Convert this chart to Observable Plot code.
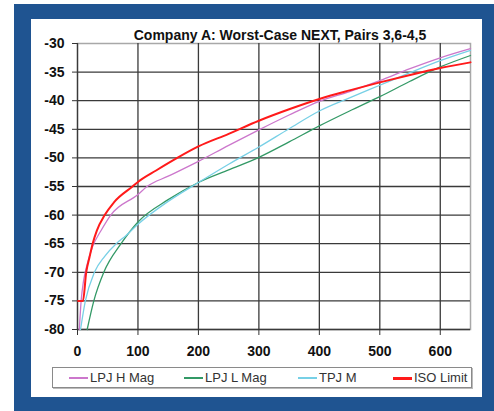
<!DOCTYPE html>
<html>
<head>
<meta charset="utf-8">
<script src="https://cdn.jsdelivr.net/npm/d3@7"></script>
<script src="https://cdn.jsdelivr.net/npm/@observablehq/plot@0.6"></script>
<style>
  html, body { margin: 0; padding: 0; background: #ffffff; }
  #wrap { position: relative; width: 494px; height: 411px; overflow: hidden; font-family: "Liberation Sans", Arial, sans-serif; }
  #blue { position: absolute; left: 14px; top: 4px; width: 480px; height: 407px; background: #1f5491; }
  #panel { position: absolute; left: 31px; top: 19px; width: 451px; height: 378px; background: #ffffff; }
  #chart { position: absolute; left: 0; top: 0; }
  #title { position: absolute; left: 0; width: 560px; top: 27px; text-align: center; font-size: 14px; line-height: 16px; font-weight: bold; color: #111; }
  #legend { position: absolute; left: 52px; top: 367px; width: 418px; height: 19px; border: 1px solid #8a8a8a; box-shadow: 1px 1px 0 #bbb; background: #fff; }
  .item { position: absolute; top: 0; height: 19px; font-size: 13px; line-height: 19px; color: #333; white-space: nowrap; }
  .sw { position: absolute; top: 9px; width: 19px; height: 0; }
  .lab { position: absolute; left: 21px; top: 0; }
</style>
</head>
<body>
<div id="wrap">
  <div id="blue"></div>
  <div id="panel"></div>
  <div id="chart"></div>
  <div id="title">Company A: Worst-Case NEXT, Pairs 3,6-4,5</div>
  <div id="legend"></div>
</div>
<script>
// ---- data ----
const seriesNames = ["LPJ H Mag", "LPJ L Mag", "TPJ M", "ISO Limit"];
const seriesColors = ["#cc77cc", "#339966", "#77d0e6", "#ff1a1a"];

const lpjHFreq = [3, 6, 10, 15, 25, 39, 55, 100, 115, 150, 200, 250, 300, 350, 400, 450, 500, 550, 600, 650];
const lpjHNext = [-80, -75, -71.5, -69, -65.5, -62.7, -60, -56.4, -55, -53.2, -50.6, -47.8, -45.1, -42.5, -40.1, -38.4, -36.5, -34.4, -32.5, -30.9];

const lpjLFreq = [16, 27, 43.5, 72, 100, 150, 200, 250, 300, 350, 400, 450, 500, 550, 600, 650];
const lpjLNext = [-80, -75, -70, -65, -61.2, -57.3, -54.3, -52.1, -49.9, -47.2, -44.4, -41.8, -39.3, -36.6, -34.1, -32.1];

const tpjFreq = [5, 13, 28, 45, 64, 80, 100, 150, 200, 250, 300, 350, 400, 450, 500, 550, 600, 650];
const tpjNext = [-80, -75, -70, -67.2, -65, -63.6, -61.6, -57.6, -54.3, -51.1, -48.1, -44.9, -41.8, -39.5, -37.3, -35.1, -33.0, -31.2];

const isoFreq = [1, 9, 14.4, 20, 25, 32, 45, 60, 91, 100, 130, 165, 200, 250, 300, 350, 400, 450, 500, 550, 600, 650];
const isoNext = [-75, -75, -70, -67.3, -65, -62.7, -60, -57.8, -55, -54.2, -52.2, -50, -48.0, -45.8, -43.5, -41.5, -39.7, -38.2, -36.8, -35.5, -34.3, -33.3];

const xTicks = [0, 100, 200, 300, 400, 500, 600];
const yTicks = [-80, -75, -70, -65, -60, -55, -50, -45, -40, -35, -30];

// ---- build ----
const allX = [lpjHFreq, lpjLFreq, tpjFreq, isoFreq];
const allY = [lpjHNext, lpjLNext, tpjNext, isoNext];
const rows = [];
seriesNames.forEach((name, i) => {
  allX[i].forEach((f, j) => rows.push({series: name, f, v: allY[i][j]}));
});

const lineMarks = seriesNames.map((name, i) =>
  Plot.line(rows.filter(d => d.series === name), {
    x: "f", y: "v", stroke: seriesColors[i],
    strokeWidth: name === "ISO Limit" ? 2 : 1.3,
    curve: "monotone-x"
  })
);

const chart = Plot.plot({
  width: 494,
  height: 365,
  marginLeft: 77,
  marginRight: 24,
  marginTop: 43,
  marginBottom: 36,
  style: {
    fontFamily: "'Liberation Sans', Arial, sans-serif",
    fontSize: "14px",
    fontWeight: "bold",
    background: "transparent",
    color: "#111"
  },
  x: {domain: [0, 650]},
  y: {domain: [-80, -30]},
  marks: [
    Plot.frame({stroke: "#a8a8a8", strokeWidth: 1.5}),
    Plot.gridX(xTicks, {stroke: "#3a3a3a", strokeOpacity: 1, strokeWidth: 1.3}),
    Plot.gridY(yTicks.filter(t => t !== -30), {stroke: "#3a3a3a", strokeOpacity: 1, strokeWidth: 1.3}),
    Plot.axisX({ticks: xTicks, tickSize: 6, tickPadding: 11, label: null, stroke: "#333", tickFormat: d => String(d)}),
    Plot.axisY({ticks: yTicks, tickSize: 5, tickPadding: 8, label: null, stroke: "#333", tickFormat: d => String(d)}),
    ...lineMarks
  ]
});
document.getElementById("chart").appendChild(chart);

// ---- legend ----
const legendLeft = [16, 131, 245, 340];
const legend = document.getElementById("legend");
seriesNames.forEach((name, i) => {
  const it = document.createElement("div");
  it.className = "item";
  it.style.left = legendLeft[i] + "px";
  const sw = document.createElement("div");
  sw.className = "sw";
  sw.style.borderTop = (name === "ISO Limit" ? 3 : 2) + "px solid " + seriesColors[i];
  const lab = document.createElement("span");
  lab.className = "lab";
  lab.textContent = name;
  it.appendChild(sw);
  it.appendChild(lab);
  legend.appendChild(it);
});
</script>
</body>
</html>
